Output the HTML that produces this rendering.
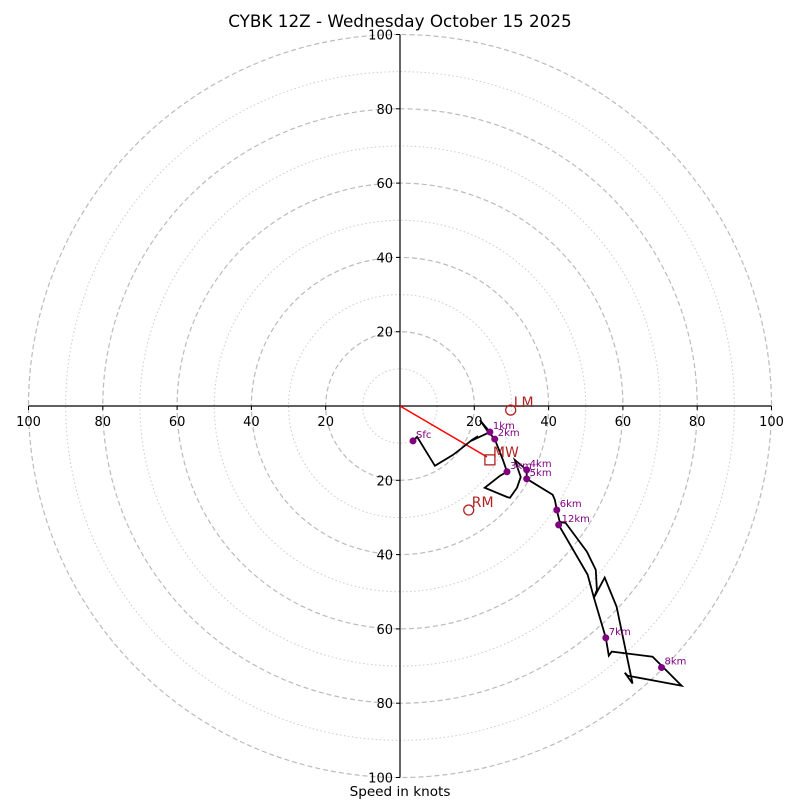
<!DOCTYPE html>
<html><head><meta charset="utf-8"><style>
body{margin:0;background:#fff}
svg{display:block;font-family:"DejaVu Sans","Liberation Sans",sans-serif}
</style></head><body>
<svg id="c" width="800" height="800" viewBox="0 0 800 800">
<text x="400" y="27" text-anchor="middle" font-size="16.8">CYBK 12Z - Wednesday October 15 2025</text>
<text x="400" y="796" text-anchor="middle" font-size="13.6">Speed in knots</text>
</svg>
<script>
const ringValues=[10,20,30,40,50,60,70,80,90,100];
const tickLabels=[20,40,60,80,100];
const traceU=[3.5,4.6,9.4,14.2,16.7,19.4,21.0,19.1,24.2,21.5,23.4,25.5,27.7,28.8,26.9,22.8,28.8,29.6,31.5,32.5,30.9,34.1,34.1,41.1,41.7,42.2,43.0,44.6,50.3,52.7,53.0,52.2,55.1,58.3,62.6,60.5,61.3,75.8,68.0,57.0,56.2,55.4,52.2,50.5,42.7,43.8];
const traceV=[-9.4,-8.3,-16.1,-13.2,-11.3,-9.1,-8.1,-9.4,-7.0,-3.8,-6.5,-8.9,-14.5,-17.7,-18.8,-22.0,-24.5,-24.7,-22.0,-19.1,-14.5,-17.2,-19.6,-23.9,-25.3,-28.0,-31.2,-31.5,-39.2,-44.1,-49.5,-51.6,-46.2,-54.0,-74.7,-71.8,-72.6,-75.3,-67.5,-66.1,-67.2,-62.4,-51.6,-45.4,-32.0,-31.2];
const markerLabels=["Sfc","1km","2km","3km","4km","5km","6km","7km","8km","12km"];
const markerU=[3.5,24.2,25.5,28.8,34.1,34.1,42.2,55.4,70.4,42.7];
const markerV=[-9.4,-7.0,-8.9,-17.7,-17.2,-19.6,-28.0,-62.4,-70.4,-32.0];
const motionLabels=["LM","MW","RM"];
const motionU=[29.8,24.2,18.5];
const motionV=[-1.1,-14.5,-28.0];

const CX=400,CY=406,S=3.715;
const sx=u=>CX+u*S, sy=v=>CY-v*S;
const svg=document.getElementById('c');
const NS='http://www.w3.org/2000/svg';
function mk(tag,attrs,parent){const e=document.createElementNS(NS,tag);for(const k in attrs)e.setAttribute(k,attrs[k]);(parent||svg).appendChild(e);return e;}

ringValues.forEach(r=>{
  const c=mk('circle',{cx:CX,cy:CY,r:r*S,fill:'none',stroke:r%20===0?'#bbb':'#ccc','stroke-width':r%20===0?1.2:1,'stroke-dasharray':r%20===0?'5,3':'1.5,2.5'});
  
  
});
let ax=mk('line',{x1:sx(-100),y1:CY,x2:sx(100),y2:CY,stroke:'#000','stroke-width':1.2});


ax=mk('line',{x1:CX,y1:sy(100),x2:CX,y2:sy(-100),stroke:'#000','stroke-width':1.2});


tickLabels.forEach(t=>{
  [t,-t].forEach(v=>{
    mk('line',{x1:sx(v),y1:CY,x2:sx(v),y2:CY+4,stroke:'#000'});
    const tx=mk('text',{x:sx(v),y:CY+20,'text-anchor':'middle','font-size':13});
    tx.textContent=t;
    
    
    mk('line',{x1:CX-4,y1:sy(v),x2:CX,y2:sy(v),stroke:'#000'});
    const ty=mk('text',{x:CX-7,y:sy(v)+5,'text-anchor':'end','font-size':13});
    ty.textContent=t;
    
    
  });
});
const mw=mk('line',{x1:CX,y1:CY,x2:sx(motionU[1])-3,y2:sy(motionV[1])-3,stroke:'#f00','stroke-width':1.5});


const pts=traceU.map((u,i)=>sx(u)+','+sy(traceV[i])).join(' ');
const tr=mk('polyline',{points:pts,fill:'none',stroke:'#000','stroke-width':1.8,'stroke-linejoin':'miter'});


markerLabels.forEach((l,i)=>{
  const m=mk('circle',{cx:sx(markerU[i]),cy:sy(markerV[i]),r:3.5,fill:'#800080'});
  
  
  const t=mk('text',{x:sx(markerU[i])+3,y:sy(markerV[i])-3,'font-size':10,fill:'#800080'});
  t.textContent=l;
  
  
});
motionLabels.forEach((l,i)=>{
  const x=sx(motionU[i]),y=sy(motionV[i]);
  let m;
  if(l==='MW') m=mk('rect',{x:x-5,y:y-5,width:10,height:10,fill:'none',stroke:'#b22222','stroke-width':1.3});
  else m=mk('circle',{cx:x,cy:y,r:5,fill:'none',stroke:'#b22222','stroke-width':1.3});
  
  
  const t=mk('text',{x:x+3,y:y-3,'font-size':14,fill:'#b22222'});
  t.textContent=l;
  
  
});
</script>
</body></html>
